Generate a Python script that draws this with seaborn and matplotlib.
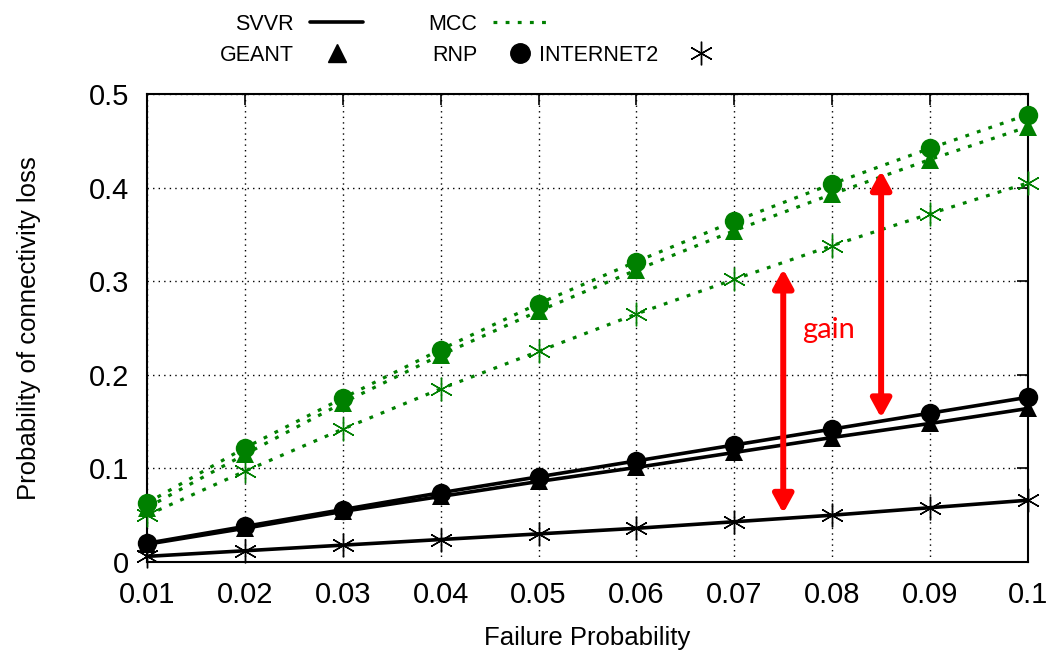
import numpy as np
import pandas as pd
import matplotlib
matplotlib.use("Agg")
import matplotlib.pyplot as plt
from matplotlib.lines import Line2D
import seaborn as sns

# Data
failure_prob = [0.01, 0.02, 0.03, 0.04, 0.05, 0.06, 0.07, 0.08, 0.09, 0.10]

mcc_rnp = [0.063, 0.122, 0.175, 0.227, 0.276, 0.321, 0.364, 0.404, 0.442, 0.478]
mcc_geant = [0.058, 0.115, 0.170, 0.221, 0.268, 0.312, 0.354, 0.393, 0.430, 0.465]
mcc_internet2 = [0.050, 0.097, 0.142, 0.185, 0.225, 0.265, 0.302, 0.338, 0.372, 0.405]

svvr_rnp = [0.020, 0.038, 0.056, 0.074, 0.091, 0.108, 0.125, 0.142, 0.159, 0.176]
svvr_geant = [0.019, 0.036, 0.054, 0.070, 0.086, 0.101, 0.117, 0.133, 0.148, 0.164]
svvr_internet2 = [0.006, 0.012, 0.018, 0.024, 0.030, 0.036, 0.043, 0.050, 0.058, 0.066]

x_ticks = [0.01, 0.02, 0.03, 0.04, 0.05, 0.06, 0.07, 0.08, 0.09, 0.1]
x_tick_labels = ["0.01", "0.02", "0.03", "0.04", "0.05", "0.06", "0.07", "0.08", "0.09", "0.1"]
y_ticks = [0, 0.1, 0.2, 0.3, 0.4, 0.5]
y_tick_labels = ["0", "0.1", "0.2", "0.3", "0.4", "0.5"]

# gain arrows: (x, y_low, y_high)
gain_arrows = [(0.075, 0.052, 0.313), (0.085, 0.154, 0.418)]

sns.set_style("white")
plt.rcParams["font.family"] = ["Liberation Sans", "DejaVu Sans"]
plt.rcParams["text.color"] = "black"
plt.rcParams["axes.labelcolor"] = "black"
plt.rcParams["xtick.color"] = "black"
plt.rcParams["ytick.color"] = "black"

GREEN = "#008000"
DOT = (0, (1.2, 2.6))
STAR = (6, 2, 0)

fig = plt.figure(figsize=(10.5, 6.5), dpi=100)
ax = fig.add_axes([0.14, 0.1354, 0.839, 0.72])

# (values, colour, linestyle, line width, marker, markersize, marker edge width)
series = [
    (mcc_internet2, GREEN, DOT, 2.3, STAR, 17, 1.0),
    (mcc_geant, GREEN, DOT, 2.3, "^", 13, 0),
    (mcc_rnp, GREEN, DOT, 2.3, "o", 14, 0),
    (svvr_internet2, "black", "-", 2.6, STAR, 17, 1.0),
    (svvr_geant, "black", "-", 2.6, "^", 13, 0),
    (svvr_rnp, "black", "-", 2.6, "o", 14, 0),
]

for vals, col, ls, lw, mk, ms, mew in series:
    df = pd.DataFrame({"x": failure_prob, "y": vals})
    sns.lineplot(data=df, x="x", y="y", ax=ax, color=col, linestyle=ls,
                 linewidth=lw, marker=mk, markersize=ms, markeredgewidth=mew,
                 markeredgecolor=col, markerfacecolor=col, clip_on=False,
                 zorder=3)

ax.set_xlim(0.01, 0.1)
ax.set_ylim(0, 0.5)
ax.set_xticks(x_ticks)
ax.set_xticklabels(x_tick_labels)
ax.set_yticks(y_ticks)
ax.set_yticklabels(y_tick_labels)
ax.tick_params(axis="both", direction="in", length=8, width=1.2, labelsize=21,
               top=True, right=True, colors="black")
ax.tick_params(axis="x", pad=14)
ax.tick_params(axis="y", pad=13)
ax.grid(True, color="black", linestyle=(0, (1, 3)), linewidth=1.0)
for sp in ax.spines.values():
    sp.set_linewidth(1.5)
    sp.set_color("black")
ax.set_xlabel("Failure Probability", fontsize=18.5, labelpad=12, color="black")
ax.set_ylabel("Probability of connectivity loss", fontsize=18.5, labelpad=34,
              color="black")

# gain arrows and label
for gx, lo, hi in gain_arrows:
    ax.annotate("", xy=(gx, hi), xytext=(gx, lo),
                arrowprops=dict(arrowstyle="<|-|>,head_length=0.55,head_width=0.3",
                                mutation_scale=20, color="red", lw=4.3,
                                shrinkA=0, shrinkB=0),
                zorder=5)
ax.text(0.0796, 0.248, "gain", color="red", fontsize=21, ha="center",
        va="center", family=["Lato", "DejaVu Sans"])

# key laid out like the gnuplot one: label on the left, sample on the right
key_opts = dict(markerfirst=False, frameon=False, fontsize=15.5,
                handlelength=2.45, handletextpad=0.75, labelspacing=0.45,
                loc="upper right", borderaxespad=0, borderpad=0,
                labelcolor="black")
key_top = 1 - 14 / 650

fig.legend([Line2D([], [], color="black", lw=2.6),
            Line2D([], [], color="black", lw=0, marker="^", markersize=13)],
           ["SVVR", "GEANT"], bbox_to_anchor=(363 / 1050, key_top), **key_opts)
fig.legend([Line2D([], [], color=GREEN, lw=2.3, linestyle=DOT),
            Line2D([], [], color="black", lw=0, marker="o", markersize=14)],
           ["MCC", "RNP"], bbox_to_anchor=(546 / 1050, key_top), **key_opts)
fig.legend([Line2D([], [], color="none", lw=0),
            Line2D([], [], color="black", lw=0, marker=STAR, markersize=17,
                   markeredgewidth=1.0)],
           [" ", "INTERNET2"], bbox_to_anchor=(727 / 1050, key_top), **key_opts)

fig.savefig("out.png", dpi=100)
